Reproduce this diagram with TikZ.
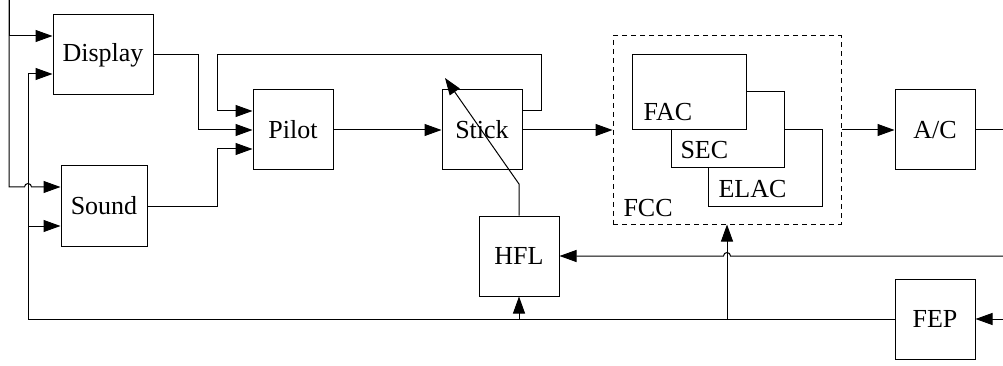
\documentclass[tikz,border=0pt]{standalone}
\usepackage{fontspec}
\setmainfont{Liberation Serif}
\usetikzlibrary{arrows.meta,calc}
\begin{document}
\begin{tikzpicture}[x=1pt,y=-1pt,line width=1pt,
  blk/.style={draw,fill=white,inner sep=0pt,minimum width=80pt,minimum height=80pt,font=\fontsize{26}{30}\selectfont},
  sub/.style={draw,fill=white,inner sep=0pt},
  lbl/.style={anchor=base west,inner sep=0pt,font=\fontsize{26}{30}\selectfont},
  arr/.style={-{Triangle[length=17pt,width=12pt]}}]
\useasboundingbox (0,0) rectangle (1003,366);
% blocks
\node[blk,minimum width=100pt] (Display) at (103,55) {Display};
\node[blk,minimum width=86pt] (Sound) at (104,206) {Sound};
\node[blk] (Pilot) at (293,130) {Pilot};
\node[blk] (Stick) at (482,130) {Stick};
\node[blk] (AC) at (935,130) {A/C};
\node[blk] (HFL) at (519,256) {HFL};
\node[blk] (FEP) at (935,319) {FEP};
% FCC group
\node[draw,dash pattern=on 5pt off 4pt,inner sep=0pt,minimum width=228pt,minimum height=188pt] (FCC) at (727,130) {};
\node[sub,minimum width=114pt,minimum height=76pt] (ELAC) at (765,168) {};
\node[sub,minimum width=113pt,minimum height=76pt] (SEC) at (727.5,130) {};
\node[sub,minimum width=114pt,minimum height=75pt] (FAC) at (689,92.5) {};
\node[lbl] (facT) at (643,121) {FAC};
\node[lbl] (secT) at (680,159) {SEC};
\node[lbl] (elacT) at (718,197) {ELAC};
\node[lbl] (fccT) at (623,216) {FCC};
% outer coordinates
\coordinate (topL) at (9,0);
\coordinate (rAC) at (1003,130);
\coordinate (rHFL) at (1003,256);
\coordinate (rFEP) at (1003,319);
% left inputs
\draw[arr] (topL) |- ([yshift=19pt]Display.west);
\draw[arr] (topL) -- (9,187) -- (24.5,187) arc (180:360:3.5) -- ([yshift=19pt]Sound.west);
\draw[arr] (FEP.west) -| (28,74) -- ([yshift=-19pt]Display.west);
\draw[arr] (28,226) -- ([yshift=-20pt]Sound.west);
% to pilot
\draw[arr] (Display.east) -- (198,55) |- (Pilot.west);
\draw[arr] (Sound.east) -- (217,206) |- ([yshift=-19pt]Pilot.west);
\draw[arr] ([yshift=19pt]Stick.east) -- (541,111) -- (541,55) -- (217,55) |- ([yshift=19pt]Pilot.west);
% main chain
\draw[arr] (Pilot.east) -- (Stick.west);
\draw[arr] (Stick.east) -- (FCC.west);
\draw[arr] (FCC.east) -- (AC.west);
\draw (AC.east) -- (rAC);
% HFL
\draw[arr] (HFL.north) -- (519,184) -- (445,78);
\draw[arr] (rHFL) -- (730.5,256) arc (0:-180:3.5) -- (HFL.east);
\draw[arr] (HFL.south |- FEP.west) -- (HFL.south);
\draw[arr] (FCC.south |- FEP.west) -- (FCC.south);
\draw[arr] (rFEP) -- (FEP.east);
\end{tikzpicture}
\end{document}
